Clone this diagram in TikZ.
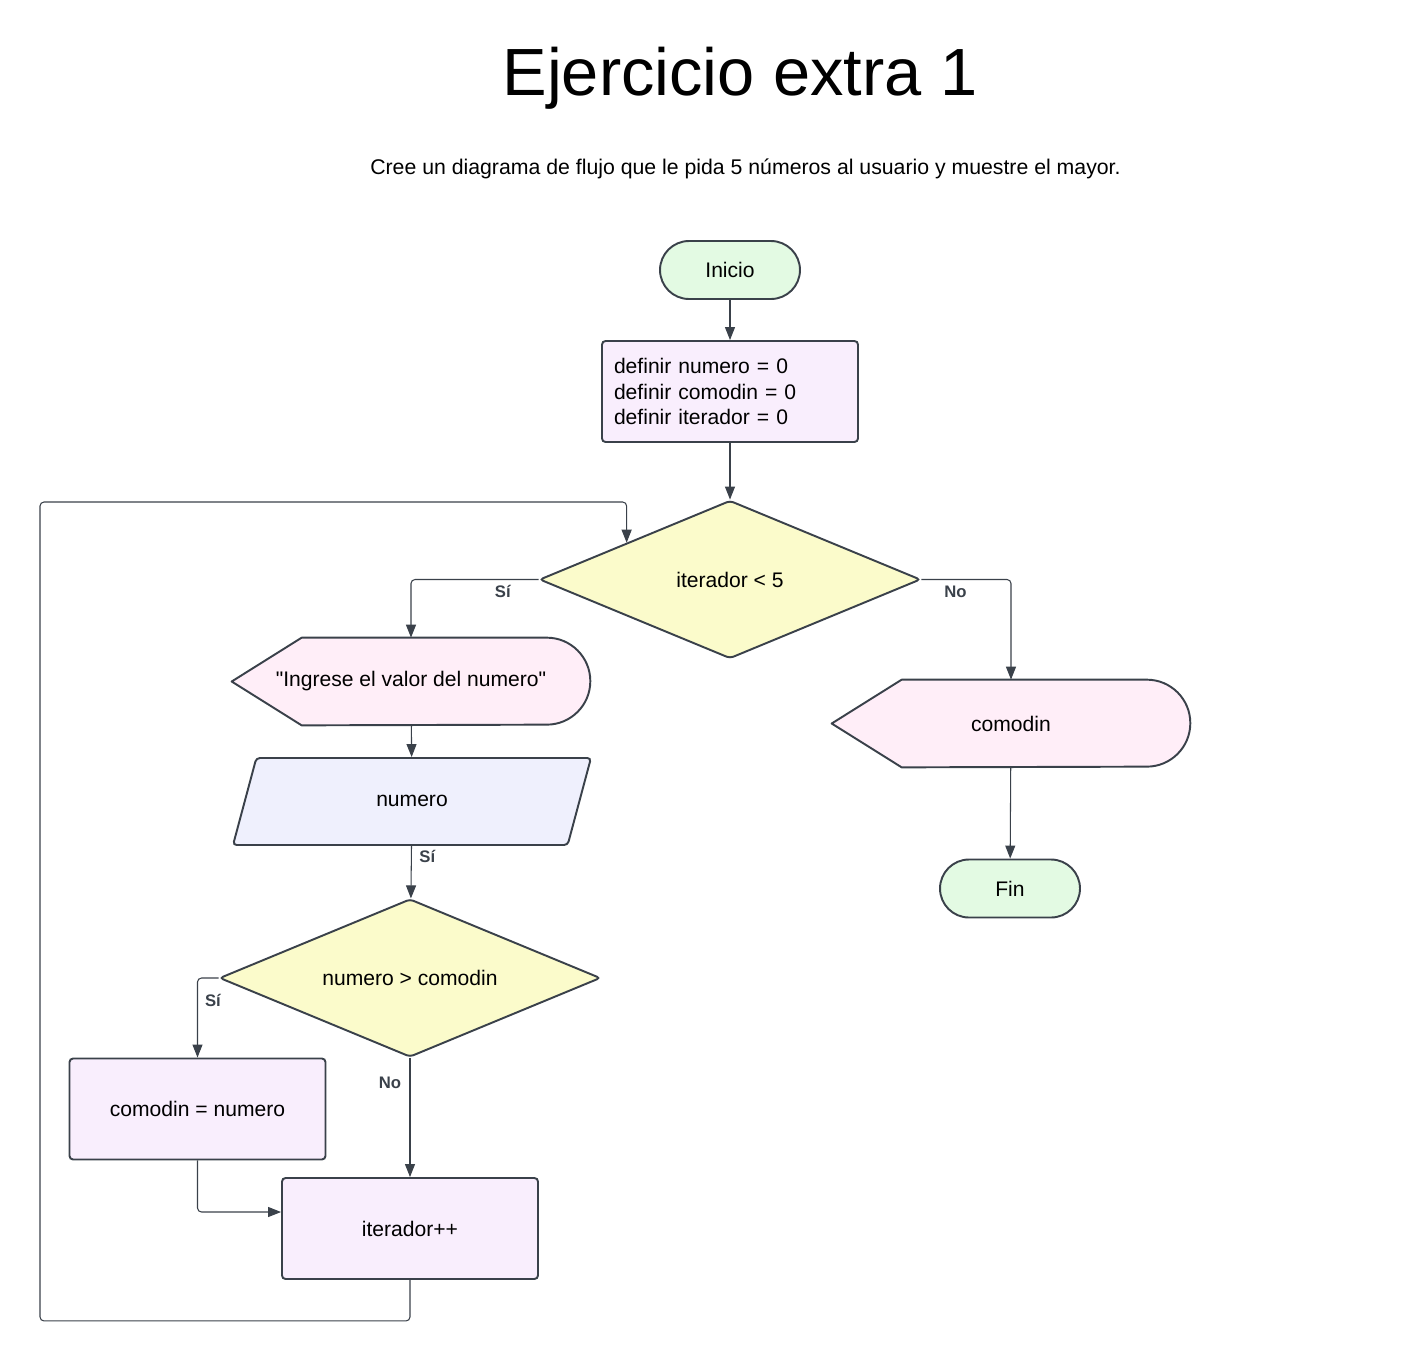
\documentclass[tikz,border=0pt]{standalone}
\usepackage{fontspec}
\setmainfont{Liberation Sans}
\usetikzlibrary{shapes.geometric,arrows.meta,backgrounds,calc}

\definecolor{linegray}{HTML}{3A414A}
\definecolor{termgreen}{HTML}{E3FAE3}
\definecolor{procpink}{HTML}{F9EEFD}
\definecolor{disppink}{HTML}{FFEEF8}
\definecolor{inblue}{HTML}{EFF0FD}
\definecolor{decyellow}{HTML}{FBFBCB}

\tikzset{>={Triangle[length=2.6mm,width=2mm]}}
\tikzset{
  shapeline/.style={draw=linegray,line width=1.1pt,font=\fontsize{12}{14.5}\selectfont},
  term/.style={shapeline,fill=termgreen,rounded corners=0.58cm,minimum width=2.8cm,minimum height=1.16cm},
  procbox/.style={shapeline,fill=procpink,rounded corners=2pt,minimum width=5.12cm,minimum height=2.02cm},
  decision/.style={shapeline,diamond,aspect=2.4,fill=decyellow,rounded corners=2pt,minimum width=7.62cm,minimum height=3.16cm,inner sep=0pt},
  inbox/.style={shapeline,trapezium,trapezium left angle=75,trapezium right angle=105,trapezium stretches body,
    fill=inblue,rounded corners=2pt,minimum width=7.16cm,text height=0.3cm,text depth=0.1cm,inner ysep=0.67cm},
  dispbox/.style={font=\fontsize{12}{14.5}\selectfont,minimum width=7.16cm,minimum height=1.74cm},
  dispshape/.style={draw=linegray,line width=1.1pt,fill=disppink,line join=round},
  flow/.style={->,draw=linegray,line width=0.6pt,rounded corners=0.08cm},
  lbl/.style={font=\fontsize{9.5}{11}\selectfont\bfseries,text=linegray,inner sep=0pt},
}
% outline of a display node, drawn behind its text
\newcommand{\drawdisplay}[1]{%
  \begin{scope}[on background layer]
    \draw[dispshape] (#1.west) -- ([xshift=1.4cm]#1.north west) -- ([xshift=-0.87cm]#1.north east)
      arc[start angle=90,end angle=-90,radius=0.87cm] -- ([xshift=1.4cm]#1.south west) -- cycle;
  \end{scope}}

\begin{document}
\begin{tikzpicture}[x=0.02cm,y=-0.02cm]
  \useasboundingbox (0,0) rectangle (1411,1360);
  % title and statement
  \node[font=\fontsize{38}{45}\selectfont,anchor=base] (title) at (740,95) {Ejercicio extra 1};
  \node[font=\fontsize{12.1}{14}\selectfont,anchor=base] (task) at (745.5,174)
    {Cree un diagrama de flujo que le pida 5 números al usuario y muestre el mayor.};
  % main column
  \node[term] (start) at (730,270) {Inicio};
  \node[procbox,text width=4.64cm,inner xsep=0.24cm,align=left] (init) at (730,391.5)
    {definir numero = 0\\definir comodin = 0\\definir iterador = 0};
  \node[decision] (loop) at (730,579.5) {iterador < 5};
  % loop body
  \node[dispbox] (ask) at (411,681.5) {\textquotedbl Ingrese el valor del numero\textquotedbl};
  \drawdisplay{ask}
  \node[inbox] (read) at (412,801.5) {numero};
  \node[decision] (cmp) at (410,978) {numero > comodin};
  \node[procbox] (swap) at (197.5,1109) {comodin = numero};
  \node[procbox] (incr) at (410,1228.5) {iterador++};
  % exit
  \node[dispbox] (show) at (1011,723.5) {comodin};
  \drawdisplay{show}
  \node[term] (stop) at (1010,888.5) {Fin};
  % connectors
  \draw[flow] (start) -- (init);
  \draw[flow] (init) -- (loop);
  \draw[flow] (loop.west) -| node[lbl,pos=0.14,yshift=-0.24cm] {Sí} (ask.north);
  \draw[flow] (loop.east) -| node[lbl,pos=0.19,yshift=-0.24cm] {No} (show.north);
  \draw[flow] (ask) -- (read);
  \draw[flow] (read) -- node[lbl,pos=0.2,xshift=0.32cm] {Sí} (cmp);
  \draw[flow] (cmp.west) -| node[lbl,pos=0.64,xshift=0.31cm] {Sí} (swap.north);
  \draw[flow] (cmp.south) -- node[lbl,pos=0.21,xshift=-0.4cm] {No} (incr.north);
  \draw[flow] (swap.south) |- ([yshift=0.33cm]incr.west);
  \draw[flow] (incr.south) -- ++(0,41) -| (40,502) -| ($(loop.north)!0.54!(loop.west)$); % back to the test
  \draw[flow] (show) -- (stop);
\end{tikzpicture}
\end{document}
